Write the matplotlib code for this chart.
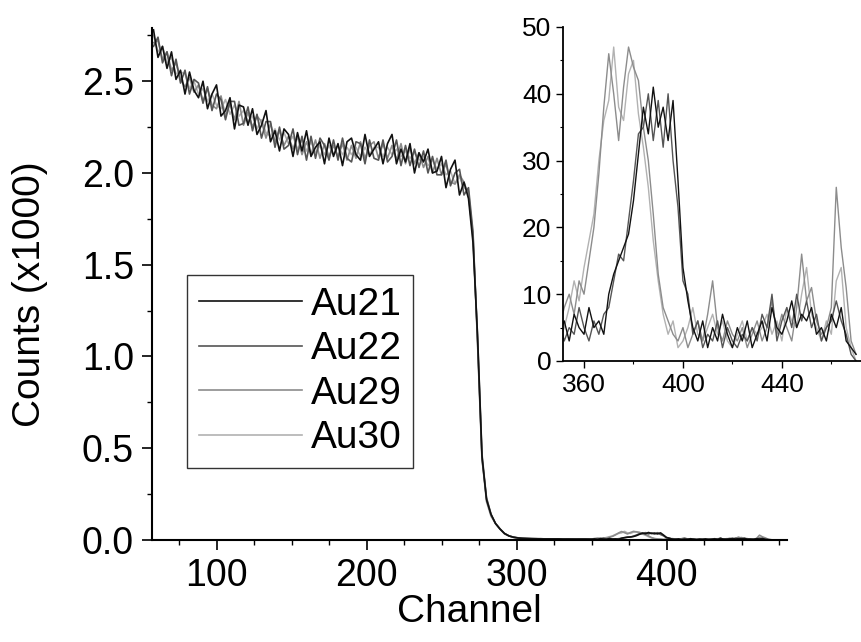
import numpy as np
import matplotlib
matplotlib.use("Agg")
import matplotlib.pyplot as plt
from matplotlib.ticker import MultipleLocator

plt.rcParams["font.family"] = ["Liberation Sans", "DejaVu Sans"]

# channel grids
main_ch = np.arange(58, 347, 3)      # main spectrum, counts x1000
tail_ch = np.arange(350, 471, 2)     # tail (inset), raw counts

labels = ["Au21", "Au22", "Au29", "Au30"]
colors = ["#111111", "#555555", "#8c8c8c", "#b2b2b2"]

# main region values (x1000 counts)
au21_main = [2.78, 2.63, 2.69, 2.57, 2.66, 2.51, 2.56, 2.43, 2.55, 2.45,
             2.41, 2.50, 2.35, 2.43, 2.48, 2.31, 2.34, 2.41, 2.24, 2.37,
             2.36, 2.26, 2.35, 2.21, 2.26, 2.34, 2.17, 2.23, 2.12, 2.24,
             2.21, 2.09, 2.22, 2.12, 2.23, 2.09, 2.14, 2.17, 2.05, 2.19,
             2.09, 2.16, 2.04, 2.17, 2.19, 2.10, 2.07, 2.21, 2.09, 2.13,
             2.17, 2.05, 2.16, 2.21, 2.05, 2.13, 2.06, 2.16, 2.00, 2.11,
             2.06, 2.13, 2.00, 2.01, 2.09, 1.92, 2.02, 2.07, 1.88, 1.95,
             1.86, 1.62, 1.12, 0.46, 0.22, 0.14, 0.09, 0.06, 0.036, 0.022,
             0.015, 0.011, 0.009, 0.008, 0.007, 0.007, 0.006, 0.006, 0.006, 0.006,
             0.006, 0.005, 0.005, 0.005, 0.005, 0.005, 0.005]
au22_main = [2.69, 2.74, 2.60, 2.66, 2.53, 2.62, 2.49, 2.56, 2.43, 2.51,
             2.49, 2.38, 2.47, 2.34, 2.43, 2.40, 2.29, 2.39, 2.39, 2.26,
             2.27, 2.36, 2.23, 2.32, 2.19, 2.28, 2.28, 2.14, 2.25, 2.13,
             2.15, 2.24, 2.10, 2.20, 2.07, 2.20, 2.08, 2.19, 2.15, 2.07,
             2.18, 2.07, 2.19, 2.08, 2.06, 2.17, 2.16, 2.05, 2.18, 2.08,
             2.07, 2.18, 2.06, 2.09, 2.18, 2.04, 2.15, 2.04, 2.13, 2.03,
             2.12, 2.00, 2.09, 1.99, 1.99, 2.07, 1.93, 2.00, 2.02, 1.88,
             1.92, 1.68, 1.08, 0.44, 0.23, 0.14, 0.09, 0.06, 0.034, 0.022,
             0.016, 0.012, 0.009, 0.008, 0.008, 0.007, 0.007, 0.006, 0.006, 0.005,
             0.006, 0.005, 0.006, 0.005, 0.004, 0.005, 0.005]
au29_main = [2.71, 2.72, 2.62, 2.66, 2.56, 2.60, 2.51, 2.47, 2.52, 2.44,
             2.48, 2.39, 2.46, 2.37, 2.35, 2.42, 2.31, 2.38, 2.29, 2.39,
             2.26, 2.33, 2.25, 2.31, 2.28, 2.19, 2.27, 2.17, 2.23, 2.15,
             2.20, 2.13, 2.20, 2.10, 2.17, 2.10, 2.18, 2.08, 2.16, 2.09,
             2.15, 2.09, 2.16, 2.07, 2.15, 2.08, 2.17, 2.08, 2.15, 2.17,
             2.08, 2.16, 2.08, 2.15, 2.07, 2.16, 2.05, 2.14, 2.05, 2.11,
             2.03, 2.09, 2.00, 2.08, 1.99, 2.05, 1.95, 1.94, 1.99, 1.95,
             1.88, 1.66, 1.10, 0.45, 0.21, 0.13, 0.09, 0.06, 0.035, 0.023,
             0.014, 0.011, 0.010, 0.008, 0.007, 0.006, 0.007, 0.006, 0.005, 0.006,
             0.005, 0.006, 0.005, 0.004, 0.005, 0.005, 0.004]
au30_main = [2.75, 2.66, 2.69, 2.60, 2.63, 2.54, 2.55, 2.54, 2.46, 2.50,
             2.43, 2.46, 2.39, 2.43, 2.37, 2.35, 2.40, 2.32, 2.37, 2.31,
             2.34, 2.28, 2.31, 2.24, 2.29, 2.22, 2.20, 2.24, 2.18, 2.22,
             2.16, 2.20, 2.13, 2.18, 2.12, 2.17, 2.11, 2.15, 2.10, 2.15,
             2.10, 2.15, 2.10, 2.14, 2.10, 2.14, 2.09, 2.14, 2.10, 2.14,
             2.14, 2.09, 2.14, 2.10, 2.13, 2.09, 2.12, 2.08, 2.11, 2.07,
             2.09, 2.04, 2.07, 2.02, 2.05, 1.99, 2.01, 1.94, 1.98, 1.92,
             1.90, 1.64, 1.12, 0.47, 0.23, 0.14, 0.09, 0.06, 0.035, 0.022,
             0.015, 0.010, 0.009, 0.009, 0.007, 0.007, 0.006, 0.005, 0.006, 0.006,
             0.005, 0.005, 0.004, 0.005, 0.005, 0.004, 0.005]

# tail values, raw counts (350..470)
au21_tail = [4, 6, 3, 7, 5, 4, 8, 5, 6, 4,
             10, 13, 15, 17, 19, 24, 31, 38, 34, 41,
             35, 38, 33, 39, 27, 14, 9, 5, 3, 6,
             2, 5, 3, 7, 4, 2, 5, 3, 6, 2,
             4, 6, 3, 8, 5, 4, 6, 9, 5, 7,
             6, 8, 4, 5, 3, 7, 5, 8, 3, 2,
             1]
au22_tail = [6, 3, 5, 4, 8, 5, 3, 6, 4, 7,
             8, 12, 16, 15, 21, 27, 34, 35, 40, 33,
             39, 32, 40, 30, 23, 12, 10, 4, 6, 2,
             4, 3, 6, 2, 5, 3, 2, 4, 3, 5,
             3, 7, 5, 10, 3, 6, 8, 5, 10, 6,
             9, 5, 7, 3, 5, 6, 9, 6, 4, 1,
             0]
au29_tail = [5, 8, 10, 7, 12, 10, 15, 20, 28, 38,
             46, 40, 33, 41, 47, 44, 42, 35, 30, 22,
             13, 8, 6, 4, 3, 5, 2, 4, 6, 3,
             7, 12, 5, 3, 6, 4, 3, 5, 2, 4,
             6, 3, 5, 9, 4, 7, 5, 3, 8, 16,
             9, 11, 6, 4, 5, 8, 26, 17, 11, 3,
             1]
au30_tail = [3, 5, 8, 12, 9, 14, 18, 22, 30, 36,
             39, 47, 38, 36, 43, 45, 37, 32, 26, 18,
             12, 7, 4, 6, 2, 3, 5, 8, 4, 3,
             5, 7, 4, 6, 3, 2, 4, 6, 3, 5,
             4, 5, 7, 4, 6, 3, 8, 6, 5, 10,
             14, 7, 5, 3, 6, 4, 12, 14, 5, 2,
             0]

mains = [au21_main, au22_main, au29_main, au30_main]
tails = [au21_tail, au22_tail, au29_tail, au30_tail]

fig = plt.figure(figsize=(8.61, 6.42), dpi=100)
ax = fig.add_axes([152 / 861, 1 - 540 / 642, 634.5 / 861, 512 / 642])

handles = []
for i in [3, 2, 1, 0]:
    x = np.concatenate([main_ch, tail_ch])
    y = np.concatenate([np.array(mains[i]), np.array(tails[i]) / 1000.0])
    h, = ax.plot(x, y, color=colors[i], lw=1.2, label=labels[i])
    handles.append(h)
handles = handles[::-1]

ax.set_xlim(57, 480)
ax.set_ylim(0, 2.79)
ax.spines["top"].set_visible(False)
ax.spines["right"].set_visible(False)
for s in ["left", "bottom"]:
    ax.spines[s].set_linewidth(1.5)
ax.xaxis.set_major_locator(MultipleLocator(100))
ax.xaxis.set_minor_locator(MultipleLocator(25))
ax.yaxis.set_major_locator(MultipleLocator(0.5))
ax.yaxis.set_minor_locator(MultipleLocator(0.25))
ax.tick_params(which="major", direction="out", length=7, width=1.2, pad=6, labelsize=27)
ax.tick_params(which="minor", direction="out", length=3.5, width=1.0)
ax.yaxis.set_major_formatter(plt.FormatStrFormatter("%.1f"))
ax.set_xlabel("Channel", fontsize=28, labelpad=0)
ax.set_ylabel("Counts (x1000)", fontsize=28)
ax.yaxis.set_label_coords(-0.164, 0.48)

leg = ax.legend(handles=handles, labels=labels, loc="upper left",
                bbox_to_anchor=(187 / 861, 1 - 275 / 642), bbox_transform=fig.transFigure,
                fontsize=28, frameon=True, fancybox=False, borderpad=0.3,
                labelspacing=0.22, handlelength=2.65, handletextpad=0.23,
                borderaxespad=0)
leg.get_frame().set_edgecolor("black")
leg.get_frame().set_linewidth(1.0)

# inset
axin = fig.add_axes([563 / 861, 1 - 361 / 642, 298 / 861, 334 / 642])
for i in [3, 2, 1, 0]:
    axin.plot(tail_ch, tails[i], color=colors[i], lw=1.0)
axin.set_xlim(351.5, 472)
axin.set_ylim(0, 50)
axin.spines["top"].set_visible(False)
axin.spines["right"].set_visible(False)
for s in ["left", "bottom"]:
    axin.spines[s].set_linewidth(1.3)
axin.xaxis.set_major_locator(MultipleLocator(40))
axin.xaxis.set_minor_locator(MultipleLocator(20))
axin.yaxis.set_major_locator(MultipleLocator(10))
axin.yaxis.set_minor_locator(MultipleLocator(5))
axin.tick_params(which="major", direction="out", length=5, width=1.0, labelsize=19)
axin.tick_params(which="minor", direction="out", length=2.5, width=0.8)
axin.patch.set_alpha(0)

fig.savefig("out.png", dpi=100)
